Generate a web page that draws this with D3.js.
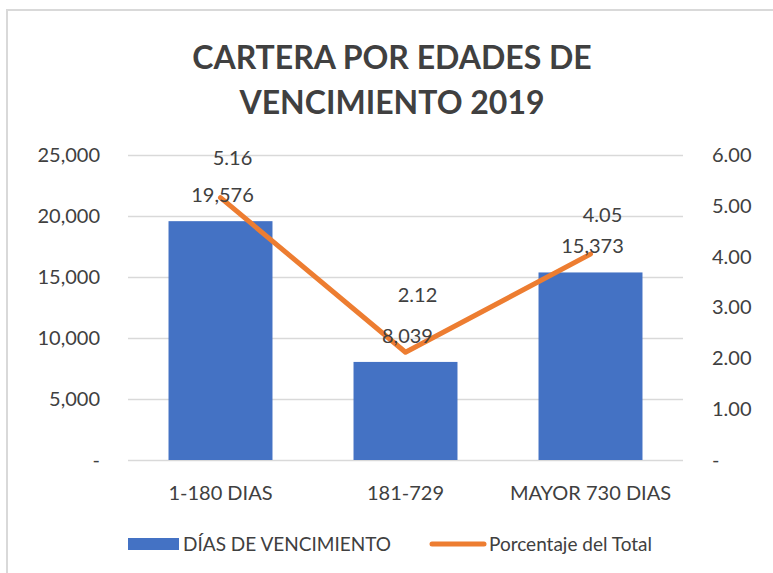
<!DOCTYPE html>
<html>
<head>
<meta charset="utf-8">
<script src="https://cdnjs.cloudflare.com/ajax/libs/d3/7.8.5/d3.min.js"></script>
<style>
  html, body { margin: 0; padding: 0; background: #fff; }
  svg { display: block; font-family: Lato, "Open Sans", sans-serif; }
</style>
</head>
<body>
<div id="chart"></div>
<script>
(() => {
  const width = 773, height = 573;

  // datos
  const categories = ["1-180 DIAS", "181-729", "MAYOR 730 DIAS"];
  const diasVencimiento = [19576, 8039, 15373];
  const porcentajeTotal = [5.16, 2.12, 4.05];
  const leftTicks = [0, 5000, 10000, 15000, 20000, 25000];
  const rightTicks = [0, 1, 2, 3, 4, 5, 6];
  const titleLines = ["CARTERA POR EDADES DE", "VENCIMIENTO 2019"];
  const seriesNames = ["DÍAS DE VENCIMIENTO", "Porcentaje del Total"];

  // etiquetas del porcentaje movidas a mano en el original
  const lineLabelLift = [40, 57, 39];

  const blue = "#4472C4", orange = "#ED7D31", textColor = "#404040", gridColor = "#d9d9d9";
  const plot = { left: 128, right: 683, top: 155, bottom: 460 };

  const svg = d3.select("#chart").append("svg")
    .attr("width", width)
    .attr("height", height);

  // marco del gráfico
  svg.append("path")
    .attr("d", `M7,${height} V10 H${width}`)
    .attr("fill", "none")
    .attr("stroke", gridColor)
    .attr("stroke-width", 2);

  // título
  svg.append("g").selectAll("text")
    .data(titleLines)
    .join("text")
    .attr("x", 392)
    .attr("y", (d, i) => 69 + i * 45)
    .attr("text-anchor", "middle")
    .attr("font-size", "32px")
    .attr("font-weight", "bold")
    .attr("fill", textColor)
    .text(d => d);

  const x = d3.scaleBand()
    .domain(categories)
    .range([plot.left, plot.right])
    .paddingInner(0.438)
    .paddingOuter(0.219);

  const yLeft = d3.scaleLinear().domain([0, 25000]).range([plot.bottom, plot.top]);
  const yRight = d3.scaleLinear().domain([0, 6]).range([plot.bottom, plot.top]);

  // líneas de cuadrícula
  svg.append("g").selectAll("line")
    .data(leftTicks)
    .join("line")
    .attr("x1", plot.left)
    .attr("x2", plot.right)
    .attr("y1", d => Math.round(yLeft(d)) + 0.5)
    .attr("y2", d => Math.round(yLeft(d)) + 0.5)
    .attr("stroke", gridColor)
    .attr("stroke-width", 1.5);

  // ejes
  const fmtLeft = d => d === 0 ? "-" : d3.format(",")(d);
  const fmtRight = d => d === 0 ? "-" : d3.format(".2f")(d);

  const axisLeft = svg.append("g")
    .attr("transform", `translate(${plot.left - 28},0)`)
    .call(d3.axisLeft(yLeft).tickValues(leftTicks).tickFormat(fmtLeft).tickSize(0).tickPadding(0));
  const axisRight = svg.append("g")
    .attr("transform", `translate(${plot.right + 29},0)`)
    .call(d3.axisRight(yRight).tickValues(rightTicks).tickFormat(fmtRight).tickSize(0).tickPadding(0));

  [axisLeft, axisRight].forEach(a => {
    a.select(".domain").remove();
    a.selectAll("text")
      .attr("font-family", "Lato, 'Open Sans', sans-serif")
      .attr("font-size", "20px")
      .attr("fill", textColor);
  });

  // barras
  svg.append("g").selectAll("rect")
    .data(diasVencimiento)
    .join("rect")
    .attr("x", (d, i) => x(categories[i]))
    .attr("y", d => yLeft(d))
    .attr("width", x.bandwidth())
    .attr("height", d => yLeft(0) - yLeft(d))
    .attr("fill", blue);

  // línea de porcentaje
  const cx = i => x(categories[i]) + x.bandwidth() / 2;
  const line = d3.line()
    .x((d, i) => cx(i))
    .y(d => yRight(d));

  svg.append("path")
    .datum(porcentajeTotal)
    .attr("d", line)
    .attr("fill", "none")
    .attr("stroke", orange)
    .attr("stroke-width", 5)
    .attr("stroke-linejoin", "round")
    .attr("stroke-linecap", "round");

  // etiquetas de datos
  svg.append("g").selectAll("text")
    .data(diasVencimiento)
    .join("text")
    .attr("x", (d, i) => cx(i) + 2)
    .attr("y", d => yLeft(d) - 19)
    .attr("text-anchor", "middle")
    .attr("font-size", "20px")
    .attr("fill", textColor)
    .text(d => d3.format(",")(d));

  svg.append("g").selectAll("text")
    .data(porcentajeTotal)
    .join("text")
    .attr("x", (d, i) => cx(i) + 12)
    .attr("y", (d, i) => yRight(d) - lineLabelLift[i] + 7)
    .attr("text-anchor", "middle")
    .attr("font-size", "20px")
    .attr("fill", textColor)
    .text(d => d3.format(".2f")(d));

  // categorías
  svg.append("g").selectAll("text")
    .data(categories)
    .join("text")
    .attr("x", d => x(d) + x.bandwidth() / 2)
    .attr("y", 500)
    .attr("text-anchor", "middle")
    .attr("font-size", "20px")
    .attr("fill", textColor)
    .text(d => d);

  // leyenda
  const legend = svg.append("g").attr("transform", "translate(0,544)");
  legend.append("rect")
    .attr("x", 128).attr("y", -6)
    .attr("width", 51).attr("height", 12)
    .attr("fill", blue);
  legend.append("text")
    .attr("x", 183).attr("y", 7)
    .attr("font-size", "19px")
    .attr("fill", textColor)
    .text(seriesNames[0]);
  legend.append("line")
    .attr("x1", 432).attr("x2", 484)
    .attr("y1", 0).attr("y2", 0)
    .attr("stroke", orange)
    .attr("stroke-width", 5)
    .attr("stroke-linecap", "round");
  legend.append("text")
    .attr("x", 489).attr("y", 7)
    .attr("font-size", "19px")
    .attr("fill", textColor)
    .text(seriesNames[1]);
})();
</script>
</body>
</html>
